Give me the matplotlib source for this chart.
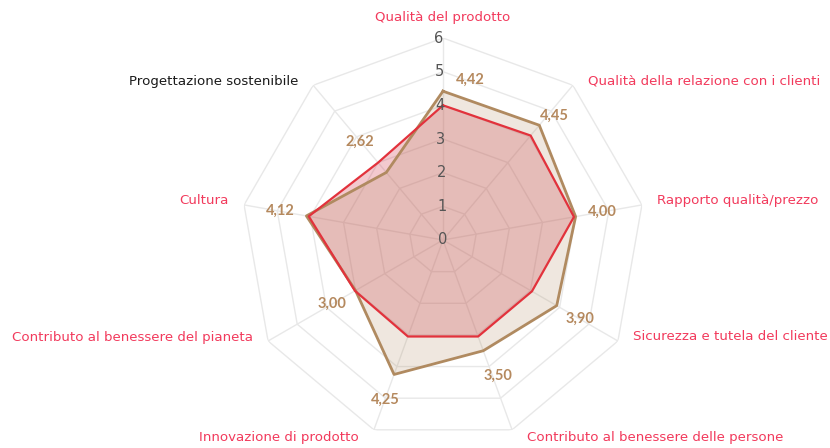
import numpy as np
import matplotlib.pyplot as plt

# ------------------------------------------------------
# dati
# ------------------------------------------------------
categories = [
    "Qualità del prodotto",
    "Qualità della relazione con i clienti",
    "Rapporto qualità/prezzo",
    "Sicurezza e tutela del cliente",
    "Contributo al benessere delle persone",
    "Innovazione di prodotto",
    "Contributo al benessere del pianeta",
    "Cultura",
    "Progettazione sostenibile",
]
label_colors = ["#f23a5c"] * 8 + ["#1a1a1a"]

valori_marchio = [4.42, 4.45, 4.00, 3.90, 3.50, 4.25, 3.00, 4.12, 2.62]
valori_media = [4.00, 4.05, 3.95, 3.05, 3.05, 3.05, 3.02, 4.05, 3.00]
scale_ticks = [0, 1, 2, 3, 4, 5, 6]

BROWN = "#b08a60"
RED = "#e2323c"

# ------------------------------------------------------
# figura
# ------------------------------------------------------
W, H = 830, 448
fig = plt.figure(figsize=(W / 100, H / 100), dpi=100)
cx, cy, R = 443, 240, 202
ax = fig.add_axes([(cx - R) / W, (H - cy - R) / H, 2 * R / W, 2 * R / H],
                  projection="polar")
ax.set_theta_zero_location("N")
ax.set_theta_direction(-1)
ax.set_ylim(0, scale_ticks[-1])
ax.grid(False)
ax.spines["polar"].set_visible(False)
ax.set_xticks([])
ax.set_yticks([])
ax.patch.set_alpha(0)

n = len(categories)
theta = np.arange(n) * 2 * np.pi / n
theta_c = np.append(theta, theta[0])

# griglia a poligono
for t in scale_ticks[1:]:
    ax.plot(theta_c, [t] * (n + 1), color="#e8e8e8", lw=1.0, zorder=1)
for a in theta:
    ax.plot([a, a], [0, scale_ticks[-1]], color="#e8e8e8", lw=1.0, zorder=1)

# serie
vm = np.append(valori_marchio, valori_marchio[0])
vr = np.append(valori_media, valori_media[0])
ax.fill(theta_c, vr, color="#d4384c", alpha=0.27, lw=0, zorder=2)
ax.fill(theta_c, vm, color=BROWN, alpha=0.2, lw=0, zorder=3)
ax.plot(theta_c, vm, color=BROWN, lw=2.0, zorder=4)
ax.plot(theta_c, vr, color=RED, lw=1.6, zorder=5)

# etichette scala
for t in scale_ticks:
    ax.text(-0.02, t, str(t), ha="center", va="center", fontsize=10.5,
            color="#555555", zorder=6)

# etichette categorie
for a, lab, col in zip(theta, categories, label_colors):
    s, c = np.sin(a), np.cos(a)
    if abs(s) < 0.1:
        ha, dx, dy = "center", 0, 20
    else:
        ha = "left" if s > 0 else "right"
        dx = 15 * np.sign(s)
        dy = 4 if c > -0.8 else -8
    ax.annotate(lab, xy=(a, scale_ticks[-1]), xytext=(dx, dy),
                textcoords="offset pixels", ha=ha, va="center",
                fontsize=9.6, color=col, family="DejaVu Sans",
                annotation_clip=False)

# etichette valori
nudge = {0: (27, 11), 1: (15, 9), 4: (15, -25), 8: (-26, 31)}
for i, (a, v) in enumerate(zip(theta, valori_marchio)):
    dx = 27 * np.sin(a)
    dy = 27 * np.cos(a)
    if i in nudge:
        dx, dy = nudge[i]
    ax.annotate(f"{v:.2f}".replace(".", ","), xy=(a, v), xytext=(dx, dy),
                textcoords="offset pixels", ha="center", va="center",
                fontsize=10.5, fontweight="bold", color="#b5895e",
                family="Lato", zorder=7, annotation_clip=False)

fig.savefig("out.png", dpi=100)
